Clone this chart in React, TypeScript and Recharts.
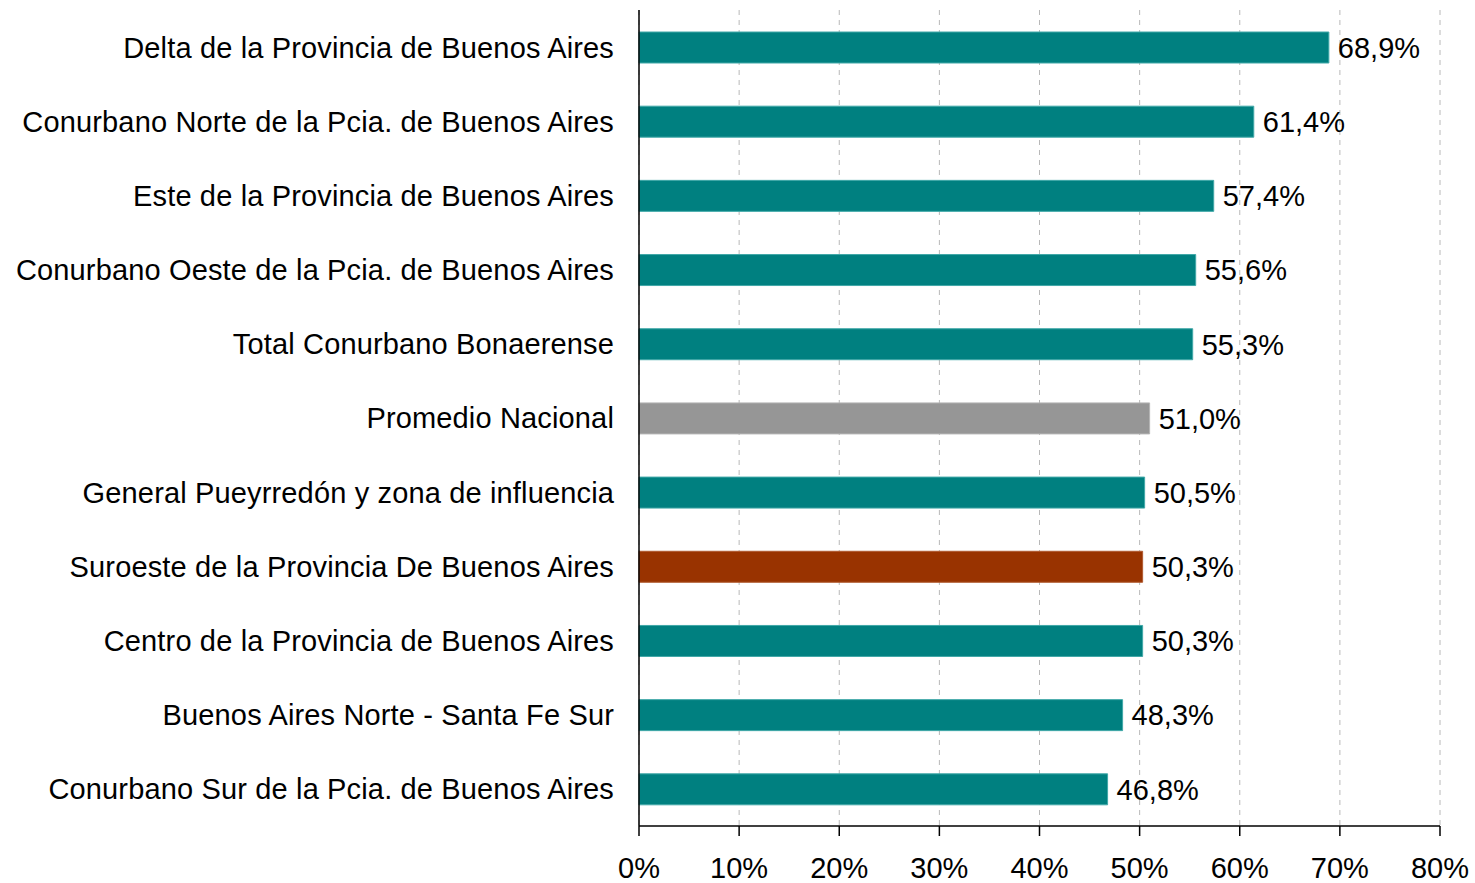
import React from 'react';
import { BarChart, Bar, XAxis, YAxis, CartesianGrid, Cell, LabelList } from 'recharts';

const categories = [
  'Delta de la Provincia de Buenos Aires',
  'Conurbano Norte de la Pcia. de Buenos Aires',
  'Este de la Provincia de Buenos Aires',
  'Conurbano Oeste de la Pcia. de Buenos Aires',
  'Total Conurbano Bonaerense',
  'Promedio Nacional',
  'General Pueyrredón y zona de influencia',
  'Suroeste de la Provincia De Buenos Aires',
  'Centro de la Provincia de Buenos Aires',
  'Buenos Aires Norte - Santa Fe Sur',
  'Conurbano Sur de la Pcia. de Buenos Aires',
];
const values = [68.9, 61.4, 57.4, 55.6, 55.3, 51.0, 50.5, 50.3, 50.3, 48.3, 46.8];
const barColors = ['#008080', '#008080', '#008080', '#008080', '#008080', '#969696', '#008080', '#993300', '#008080', '#008080', '#008080'];
const edgeColors = ['#40a8a8', '#40a8a8', '#40a8a8', '#40a8a8', '#40a8a8', '#b4b4b4', '#40a8a8', '#b05a30', '#40a8a8', '#40a8a8', '#40a8a8'];
const xTicks = [0, 10, 20, 30, 40, 50, 60, 70, 80];

const data = categories.map((name, i) => ({ name, value: values[i] }));

const FONT = '"Liberation Sans", Arial, sans-serif';
const FS = 29;
const LS = 0.15;

const YTick = (props: any) => {
  const { x, y, payload } = props;
  return (
    <text x={x} y={y} textAnchor="end" dy="0.36em" fontFamily={FONT} fontSize={FS} letterSpacing={LS} fill="#000">
      {payload.value}
    </text>
  );
};

const XTick = (props: any) => {
  const { x, y, payload } = props;
  return (
    <text x={x} y={y} textAnchor="middle" dy="0.72em" fontFamily={FONT} fontSize={FS} fill="#000">
      {`${payload.value}%`}
    </text>
  );
};

export default function App() {
  return (
    <div style={{ position: 'absolute', left: 0, top: 0, background: '#fff' }}>
      <BarChart
        width={1475}
        height={883}
        data={data}
        layout="vertical"
        margin={{ top: 10, right: 35, bottom: 0, left: 0 }}
        barSize={31}
      >
        <CartesianGrid horizontal={false} vertical={true} stroke="#b8b8b8" strokeDasharray="5 5" />
        <XAxis
          type="number"
          dataKey="value"
          domain={[0, 80]}
          ticks={xTicks}
          interval={0}
          height={57}
          axisLine={{ stroke: '#000', strokeWidth: 1.5 }}
          tickLine={{ stroke: '#000', strokeWidth: 1.5 }}
          tickSize={10}
          tickMargin={21}
          tick={<XTick />}
        />
        <YAxis
          type="category"
          dataKey="name"
          width={639}
          axisLine={{ stroke: '#000', strokeWidth: 1.5 }}
          tickLine={false}
          tickSize={0}
          tickMargin={25}
          interval={0}
          tick={<YTick />}
        />
        <Bar dataKey="value" isAnimationActive={false}>
          {data.map((d, i) => (
            <Cell key={d.name} fill={barColors[i]} stroke={edgeColors[i]} strokeWidth={1} />
          ))}
          <LabelList
            dataKey="value"
            position="right"
            offset={9}
            fill="#000"
            fontFamily={FONT}
            fontSize={FS}
            formatter={(v: any) => `${Number(v).toFixed(1).replace('.', ',')}%`}
          />
        </Bar>
      </BarChart>
    </div>
  );
}
